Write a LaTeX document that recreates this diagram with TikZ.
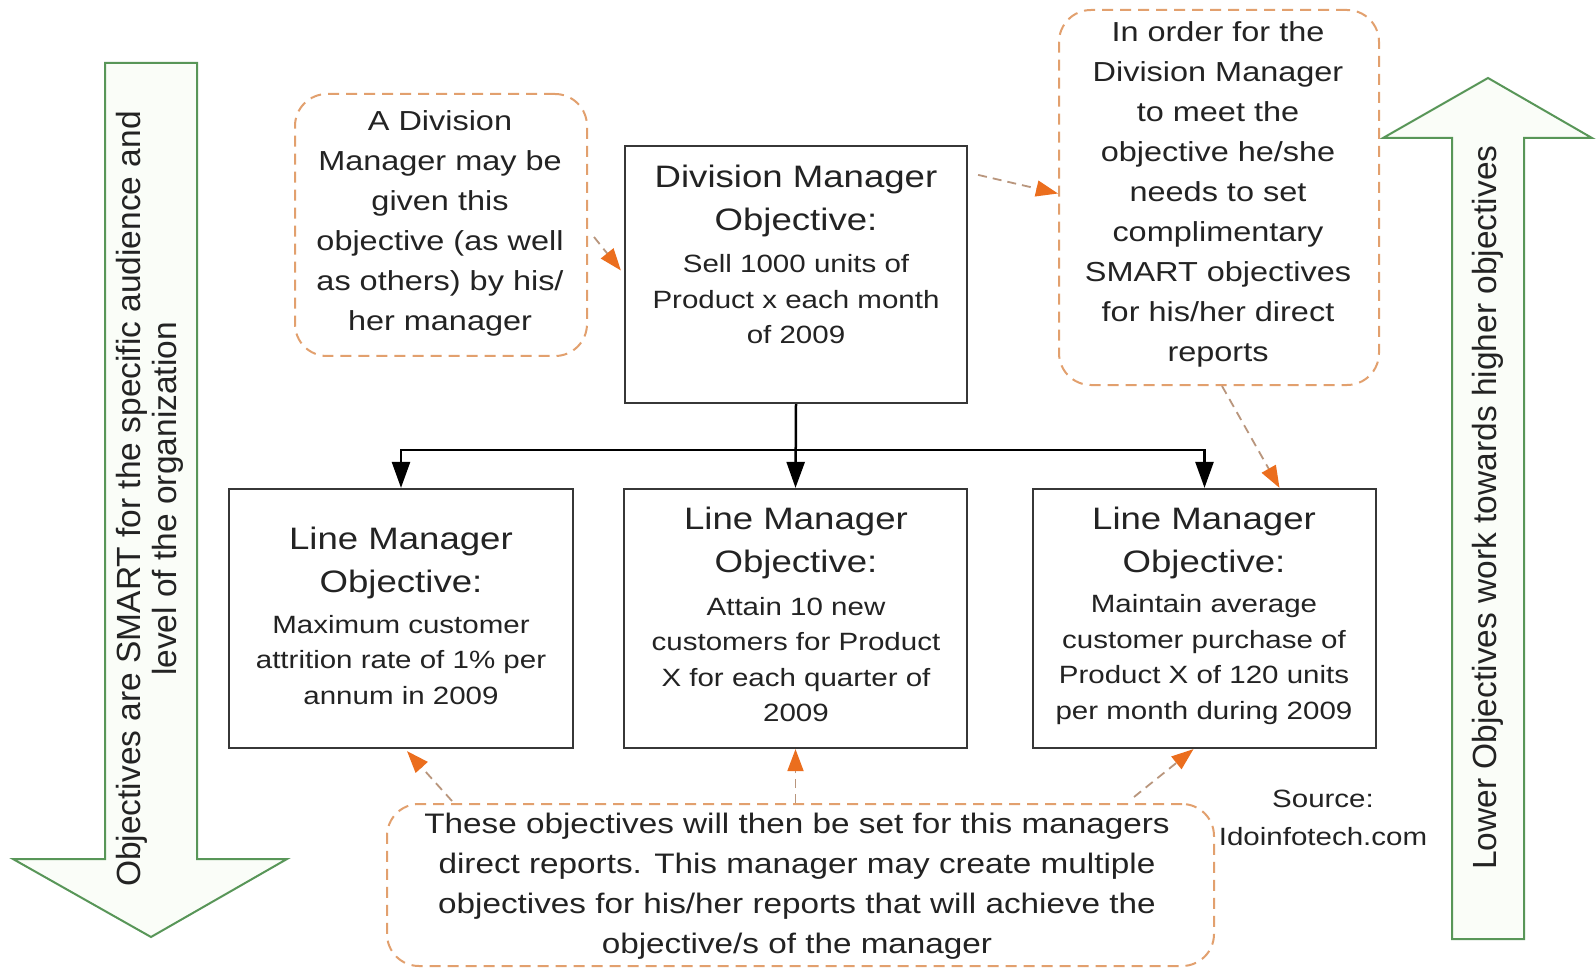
\documentclass[tikz,border=0pt]{standalone}
\usepackage{fontspec}
\setmainfont{Liberation Sans}
\newfontfamily\widefont{Liberation Sans}[FakeStretch=1.18]
\usetikzlibrary{arrows.meta,calc}

\definecolor{gline}{RGB}{88,150,88}
\definecolor{gfill}{RGB}{250,253,248}
\definecolor{odash}{RGB}{226,160,110}
\definecolor{otip}{RGB}{235,110,30}
\definecolor{oline}{RGB}{185,150,125}
\definecolor{boxline}{RGB}{55,55,55}
\definecolor{txt}{RGB}{35,35,35}

\tikzset{
  objbox/.style={draw=boxline, line width=2.2pt, fill=white, inner sep=0pt},
  notebox/.style={draw=odash, line width=2pt, dash pattern=on 11pt off 7pt,
                  rounded corners=32pt, fill=white, inner sep=0pt},
  bigarrow/.style={draw=gline, line width=2pt, fill=gfill, line join=miter},
  conn/.style={draw=black, line width=2.5pt, -{Triangle[width=18pt,length=26pt]}},
  oarr/.style={draw=oline, line width=1.8pt, dash pattern=on 9pt off 6pt,
               -{Triangle[width=16pt,length=22pt,color=otip]}},
  ttl/.style={align=center, text=txt, inner sep=0pt,
              font=\widefont\fontsize{31}{43}\selectfont},
  bdy/.style={align=center, text=txt, inner sep=0pt,
              font=\widefont\fontsize{25}{35.5}\selectfont},
  nte/.style={align=center, text=txt, inner sep=0pt,
              font=\widefont\fontsize{27.5}{40}\selectfont},
  side/.style={align=center, text=txt, inner sep=0pt, rotate=90,
               font=\fontsize{33.5}{36}\selectfont},
}

\begin{document}
\begin{tikzpicture}[x=1pt, y=-1pt]
\useasboundingbox[fill=white] (0,0) rectangle (1596,968);

% side arrows
\draw[bigarrow] (105,63) -- (197,63) -- (197,859) -- (287,859) -- (151,937)
  -- (13,859) -- (105,859) -- cycle;
\draw[bigarrow] (1452,939) -- (1452,138) -- (1383,138) -- (1488,78)
  -- (1592,138) -- (1524,138) -- (1524,939) -- cycle;
\node[side] (lefttxt) at (150,499)
  {Objectives are SMART for the specific audience and\\level of the organization};
\node[side] (righttxt) at (1488,507.5)
  {Lower Objectives work towards higher objectives};

% objective boxes
\node[objbox, minimum width=342pt, minimum height=257pt] (dm) at (796,274.5) {};
\node[objbox, minimum width=344pt, minimum height=259pt] (lm1) at (401,618.5) {};
\node[objbox, minimum width=343pt, minimum height=259pt] (lm2) at (795.5,618.5) {};
\node[objbox, minimum width=343pt, minimum height=259pt] (lm3) at (1204.5,618.5) {};

\node[ttl] (dmt) at (796,201) {Division Manager\\Objective:};
\node[bdy] (dmb) at (796,299.5) {Sell 1000 units of\\Product x each month\\of 2009};

\node[ttl] (lm1t) at (401,563) {Line Manager\\Objective:};
\node[bdy] (lm1b) at (401,659.6) {Maximum customer\\attrition rate of 1\% per\\annum in 2009};

\node[ttl] (lm2t) at (796,543) {Line Manager\\Objective:};
\node[bdy] (lm2b) at (796,659.6) {Attain 10 new\\customers for Product\\X for each quarter of\\2009};

\node[ttl] (lm3t) at (1204,543) {Line Manager\\Objective:};
\node[bdy] (lm3b) at (1204,659.6) {Maintain average\\customer purchase of\\Product X of 120 units\\per month during 2009};

% notes
\node[notebox, minimum width=292pt, minimum height=262pt] (note1) at (441,225) {};
\node[nte] (n1t) at (440,223)
  {A Division\\Manager may be\\given this\\objective (as well\\as others) by his/\\her manager};

\node[notebox, minimum width=320pt, minimum height=375pt] (note2) at (1219,197.5) {};
\node[nte] (n2t) at (1218,194)
  {In order for the\\Division Manager\\to meet the\\objective he/she\\needs to set\\complimentary\\SMART objectives\\for his/her direct\\reports};

\node[notebox, minimum width=827pt, minimum height=162pt] (note3) at (800.5,885) {};
\node[nte, font=\widefont\fontsize{28.2}{40}\selectfont] (n3t) at (797,886.6)
  {These objectives will then be set for this managers\\direct reports. This manager may create multiple\\objectives for his/her reports that will achieve the\\objective/s of the manager};

\node[bdy, font=\widefont\fontsize{25}{38}\selectfont] (src) at (1323,818) {Source:\\Idoinfotech.com};

% hierarchy connectors
\coordinate (bus) at (796,450);
\draw[conn] (dm.south) -- (lm2.north);
\draw[conn] (bus) -| (lm1.north);
\draw[conn] (bus) -| (lm3.north);

% note pointers
\draw[oarr] ([shift={(6,12)}]note1.east) -- ([shift={(-3,-4)}]dm.west);
\draw[oarr] ([shift={(10,30)}]dm.north east) -- ([shift={(0,-4)}]note2.west);
\draw[oarr] ([shift={(3,0)}]note2.south) -- ([shift={(75,0)}]lm3.north);
\draw[oarr] ([shift={(66,-2)}]note3.north west) -- ([shift={(6,2)}]lm1.south);
\draw[oarr] (lm2.south |- note3.north) -- (lm2.south);
\draw[oarr] ([shift={(-81,-6)}]note3.north east) -- ([shift={(-11,0)}]lm3.south);
\end{tikzpicture}
\end{document}
